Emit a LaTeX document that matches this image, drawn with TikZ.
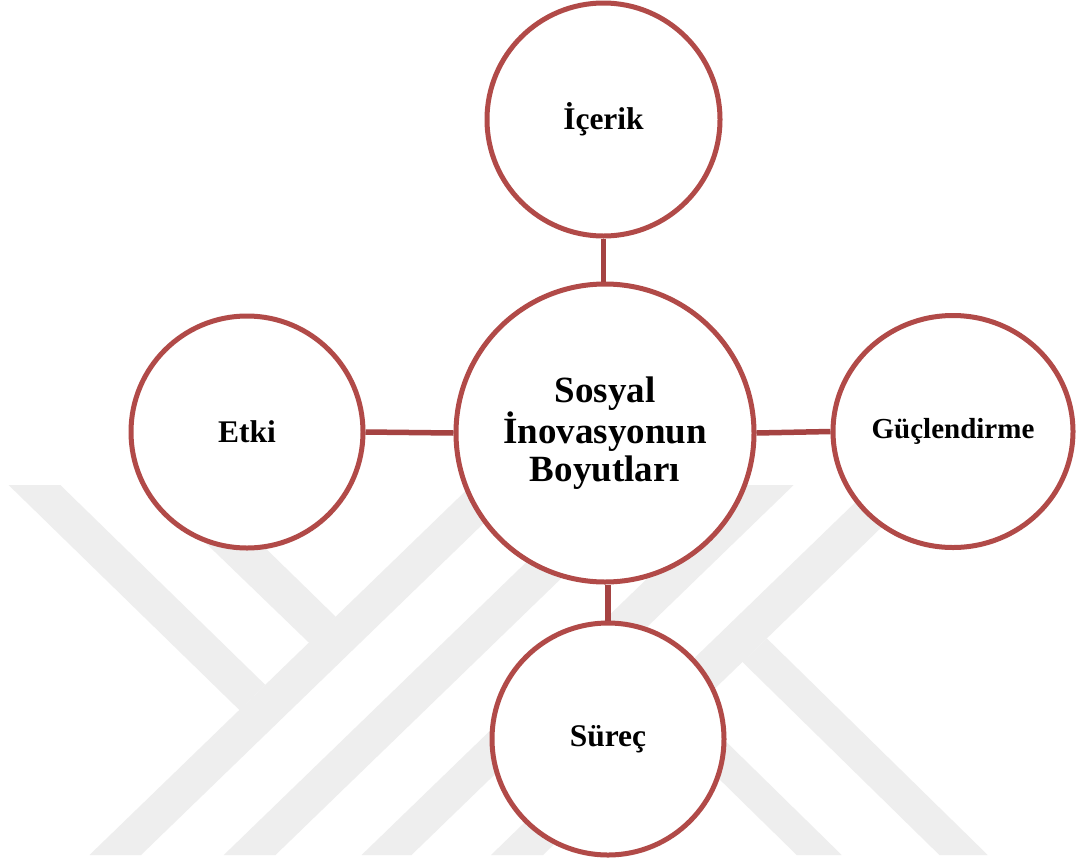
\documentclass[tikz,border=0pt]{standalone}
\usepackage{fontspec}
\setmainfont{Liberation Serif}
\usetikzlibrary{shapes.geometric}

\definecolor{ringred}{RGB}{177,74,72}
\definecolor{linkred}{RGB}{165,67,66}
\definecolor{markgray}{RGB}{238,238,238}

\tikzset{
  bubble/.style={circle, draw=ringred, line width=5pt, fill=white,
                 inner sep=0pt, font=\bfseries\fontsize{31.5}{36}\selectfont},
  link/.style={draw=linkred, line width=5.5pt},
  band/.style={fill=markgray, draw=none}
}

\begin{document}
\begin{tikzpicture}[x=1pt, y=-1pt]
  \useasboundingbox (0,0) rectangle (1076,865);
  \fill[white] (0,0) rectangle (1076,865);

  % background emblem made of diagonal stripes
  \path[band] (8.6,485) -- (60.3,485) -- (265.3,684.9) -- (239.4,710) -- cycle;
  \path[band] (89.5,855) -- (141,855) -- (523.2,485) -- (471.7,485) -- cycle;
  \path[band] (145.6,485) -- (200.7,485) -- (335.7,616.7) -- (309.7,643.4) -- cycle;
  \path[band] (223.8,855) -- (275.5,855) -- (657.7,485) -- (606,485) -- cycle;
  \path[band] (361.6,855) -- (411.5,855) -- (793.7,485) -- (743.8,485) -- cycle;
  \path[band] (491,855) -- (543,855) -- (925.2,485) -- (873.2,485) -- cycle;
  \path[band] (742.4,661.9) -- (766.8,638.4) -- (987.7,855) -- (939.4,855) -- cycle;
  \path[band] (670.6,731.4) -- (693.3,709.5) -- (841.7,855) -- (796.7,855) -- cycle;

  % central concept
  \node[bubble, minimum size=298pt, align=center,
        font=\bfseries\fontsize{37}{38.3}\selectfont] (core) at (605,433)
        {Sosyal\\İnovasyonun\\Boyutları};

  % the four dimensions
  \node[bubble, minimum size=233pt] (content) at (603.5,119.5) {İçerik};
  \node[bubble, minimum size=232pt] (impact) at (247,432) {Etki};
  \node[bubble, ellipse, minimum width=240pt, minimum height=232pt,
        font=\bfseries\fontsize{29}{34}\selectfont] (empower) at (953,431.5) {Güçlendirme};
  \node[bubble, minimum size=232pt] (process) at (608,739) {Süreç};

  % connectors
  \draw[link] (content.south) -- (content.south |- core.north);
  \draw[link] (process.north) -- (process.north |- core.south);
  \draw[link] (impact.east) -- (core.west);
  \draw[link] (core.east) -- (empower.west);
\end{tikzpicture}
\end{document}
